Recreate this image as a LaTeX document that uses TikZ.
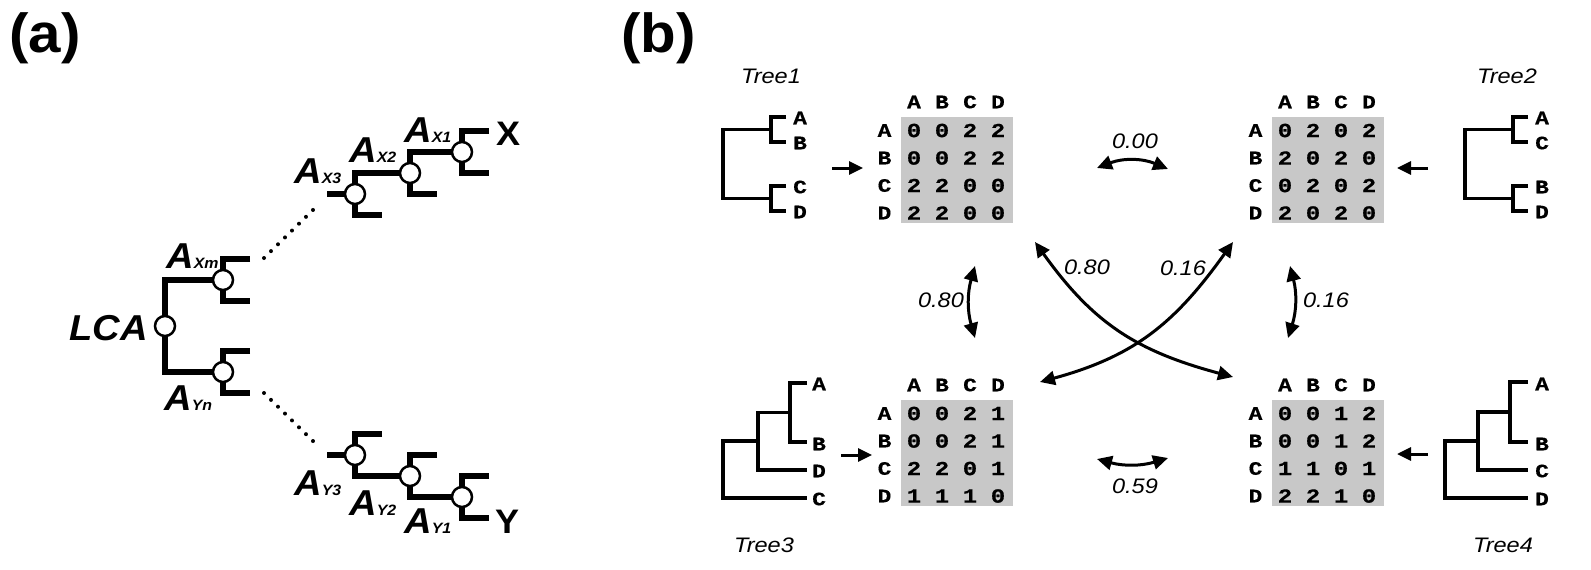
\documentclass[tikz,border=0pt]{standalone}
\usepackage{fontspec}
\setmainfont{Liberation Sans}
\newfontfamily\monofam{Liberation Mono Bold}[FakeStretch=1.2, FakeBold=0.5]
\newfontfamily\wsans{Liberation Sans}[FakeStretch=1.12]
\newfontfamily\asans{Liberation Sans}[FakeStretch=1.06]
\usetikzlibrary{arrows.meta,calc}
\definecolor{cellgray}{RGB}{200,200,200}
\newcommand\fs[1]{\fontsize{#1}{#1}\selectfont}
\newcommand\distmat[3]{%
  \node[matbox] (#1) at (#2) {};
  \foreach \h [count=\i from 0] in {A,B,C,D}{
    \node[mono] at ($(#1.north west)+(13+28*\i,-15)$) {\h};
    \node[mono] at ($(#1.north west)+(-16.5,13.5+27.5*\i)$) {\h};
  }
  \foreach \pa/\pb/\pc/\pd [count=\j from 0] in {#3}{
    \node[digit] at ($(#1.north west)+(13,13.5+27.5*\j)$) {\pa};
    \node[digit] at ($(#1.north west)+(41,13.5+27.5*\j)$) {\pb};
    \node[digit] at ($(#1.north west)+(69,13.5+27.5*\j)$) {\pc};
    \node[digit] at ($(#1.north west)+(97,13.5+27.5*\j)$) {\pd};
  }
}
\newcommand\brk[1]{\draw[tl] ($(#1)+(27,-21)$) -- ($(#1)+(0,-21)$) -- ($(#1)+(0,21)$) -- ($(#1)+(27,21)$);}
\begin{document}
\begin{tikzpicture}[x=1pt,y=-1pt,
  tl/.style={line width=6pt, line join=miter, line cap=butt},
  tw/.style={line width=3.7pt, line join=miter, line cap=butt},
  anc/.style={circle, draw, fill=white, line width=2.5pt, minimum size=20pt, inner sep=0pt},
  dots/.style={line width=4pt, line cap=round, dash pattern=on 0pt off 9.8pt},
  biglab/.style={anchor=base west, inner sep=0pt, font=\asans\bfseries\itshape\fs{36}},
  leaflab/.style={anchor=base west, inner sep=0pt, font=\asans\bfseries\fs{34}},
  panel/.style={anchor=base west, inner sep=0pt, font=\asans\bfseries\fs{55}},
  mono/.style={inner sep=0pt, font=\monofam\fs{19}},
  digit/.style={inner sep=0pt, font=\monofam\fs{20}},
  leafb/.style={anchor=west, inner sep=0pt, font=\monofam\fs{19}},
  treename/.style={inner sep=0pt, font=\wsans\itshape\fs{21}},
  dist/.style={inner sep=0pt, font=\wsans\itshape\fs{21}},
  matbox/.style={anchor=north west, fill=cellgray, minimum width=112pt, minimum height=106pt, inner sep=0pt},
  arr/.style={line width=3pt, -{Triangle[length=14pt,width=13pt]}},
  darr/.style={line width=3pt, {Triangle[length=15pt,width=14pt]}-{Triangle[length=15pt,width=14pt]}},
]
\useasboundingbox (0,0) rectangle (1591,570);

% ---------------- panel (a) ----------------
\node[panel] (pa) at (9,52) {(a)};
\coordinate (LCA) at (165,326);
\coordinate (AXm) at (223,280);
\coordinate (AYn) at (223,372);
\coordinate (AX3) at (355,194);
\coordinate (AX2) at (410,173);
\coordinate (AX1) at (462,152);
\coordinate (AY3) at (355,455);
\coordinate (AY2) at (410,476);
\coordinate (AY1) at (462,497);
\coordinate (sx) at (327,194);
\coordinate (sy) at (327,455);
\coordinate (dxa) at (264,258);
\coordinate (dxb) at (315,208);
\coordinate (dya) at (264,393);
\coordinate (dyb) at (315,443);

\draw[tl] (AXm) -| (LCA) |- (AYn);
\brk{AXm}
\brk{AYn}
\brk{AX3}
\brk{AX2}
\brk{AX1}
\brk{AY3}
\brk{AY2}
\brk{AY1}
\draw[tl] (AX3) |- (AX2);
\draw[tl] (AX2) |- (AX1);
\draw[tl] (AY3) |- (AY2);
\draw[tl] (AY2) |- (AY1);
\draw[tl] (sx) -- (AX3);
\draw[tl] (sy) -- (AY3);
\draw[dots] (dxa) -- (dxb);
\draw[dots] (dya) -- (dyb);

\foreach \n in {LCA,AXm,AYn,AX3,AX2,AX1,AY3,AY2,AY1}{
  \node[anc] (c\n) at (\n) {};
}

\node[biglab] (lLCA) at (69,340) {LCA};
\node[biglab] (lAXm) at (166,268) {A{\fs{15}Xm}};
\node[biglab] (lAYn) at (164,410) {A{\fs{15}Yn}};
\node[biglab] (lAX3) at (294,183) {A{\fs{15}X3}};
\node[biglab] (lAX2) at (349,162) {A{\fs{15}X2}};
\node[biglab] (lAX1) at (404,142) {A{\fs{15}X1}};
\node[biglab] (lAY3) at (294,495) {A{\fs{15}Y3}};
\node[biglab] (lAY2) at (349,515) {A{\fs{15}Y2}};
\node[biglab] (lAY1) at (404,533) {A{\fs{15}Y1}};
\node[leaflab] (lX) at (496,145) {X};
\node[leaflab] (lY) at (495,533) {Y};

% ---------------- panel (b) ----------------
\node[panel] (pb) at (621,52) {(b)};

% Tree1
\node[treename] (tn1) at (771,76) {Tree1};
\draw[tw] (771,129.5) -| (723,198.5) -- (771,198.5);
\draw[tw] (786,117) -- (771,117) -- (771,142) -- (786,142);
\draw[tw] (786,186) -- (771,186) -- (771,211) -- (786,211);
\node[leafb] (t1A) at (793,118) {A};
\node[leafb] (t1B) at (793,143) {B};
\node[leafb] (t1C) at (793,187) {C};
\node[leafb] (t1D) at (793,212) {D};

% Tree2
\node[treename] (tn2) at (1507,76) {Tree2};
\draw[tw] (1513,129.5) -| (1465,198.5) -- (1513,198.5);
\draw[tw] (1528,117) -- (1513,117) -- (1513,142) -- (1528,142);
\draw[tw] (1528,186) -- (1513,186) -- (1513,211) -- (1528,211);
\node[leafb] (t2A) at (1535,118) {A};
\node[leafb] (t2C) at (1535,143) {C};
\node[leafb] (t2B) at (1535,187) {B};
\node[leafb] (t2D) at (1535,212) {D};

% Tree3
\node[treename] (tn3) at (764,545) {Tree3};
\draw[tw] (807,383) -- (790,383) -- (790,442) -- (807,442);
\draw[tw] (790,412.5) -| (758,470) -- (807,470);
\draw[tw] (758,441) -| (723,498) -- (807,498);
\node[leafb] (t3A) at (812,384) {A};
\node[leafb] (t3B) at (812,444) {B};
\node[leafb] (t3D) at (812,471) {D};
\node[leafb] (t3C) at (812,499) {C};

% Tree4
\node[treename] (tn4) at (1503,545) {Tree4};
\draw[tw] (1528,382) -- (1510,382) -- (1510,442) -- (1528,442);
\draw[tw] (1510,412) -| (1478,470) -- (1528,470);
\draw[tw] (1478,441) -| (1445,498) -- (1528,498);
\node[leafb] (t4A) at (1535,384) {A};
\node[leafb] (t4B) at (1535,444) {B};
\node[leafb] (t4C) at (1535,471) {C};
\node[leafb] (t4D) at (1535,499) {D};

% matrices
\distmat{m1}{901,117}{0/0/2/2,0/0/2/2,2/2/0/0,2/2/0/0}
\distmat{m2}{1272,117}{0/2/0/2,2/0/2/0,0/2/0/2,2/0/2/0}
\distmat{m3}{901,400}{0/0/2/1,0/0/2/1,2/2/0/1,1/1/1/0}
\distmat{m4}{1272,400}{0/0/1/2,0/0/1/2,1/1/0/1,2/2/1/0}

% tree -> matrix arrows
\coordinate (a1s) at (832,168); \coordinate (a1e) at (863,168);
\coordinate (a2s) at (1428,168); \coordinate (a2e) at (1397,168);
\coordinate (a3s) at (841,455); \coordinate (a3e) at (872,455);
\coordinate (a4s) at (1428,454); \coordinate (a4e) at (1397,454);
\draw[arr] (a1s) -- (a1e);
\draw[arr] (a2s) -- (a2e);
\draw[arr] (a3s) -- (a3e);
\draw[arr] (a4s) -- (a4e);

% distance arrows
\coordinate (d12a) at (1097,168); \coordinate (d12b) at (1168,169);
\draw[darr] (d12a) to[bend left=22] (d12b);
\node[dist] (v12) at (1135,141) {0.00};

\coordinate (d34a) at (1097,459); \coordinate (d34b) at (1168,458);
\draw[darr] (d34a) to[bend right=16] (d34b);
\node[dist] (v34) at (1135,486) {0.59};

\coordinate (d13a) at (975,266); \coordinate (d13b) at (975,338);
\draw[darr] (d13a) to[bend right=16] (d13b);
\node[dist] (v13) at (941,300) {0.80};

\coordinate (d24a) at (1290,266); \coordinate (d24b) at (1288,338);
\draw[darr] (d24a) to[bend left=16] (d24b);
\node[dist] (v24) at (1326,300) {0.16};

\coordinate (d14a) at (1035,242); \coordinate (d14b) at (1233,377);
\draw[darr] (d14a) .. controls (1093,323) and (1136,351) .. (d14b);
\node[dist] (v14) at (1087,267) {0.80};

\coordinate (d23a) at (1233,242); \coordinate (d23b) at (1040,382);
\draw[darr] (d23a) .. controls (1175,323) and (1135,356) .. (d23b);
\node[dist] (v23) at (1183,268) {0.16};
\end{tikzpicture}
\end{document}
